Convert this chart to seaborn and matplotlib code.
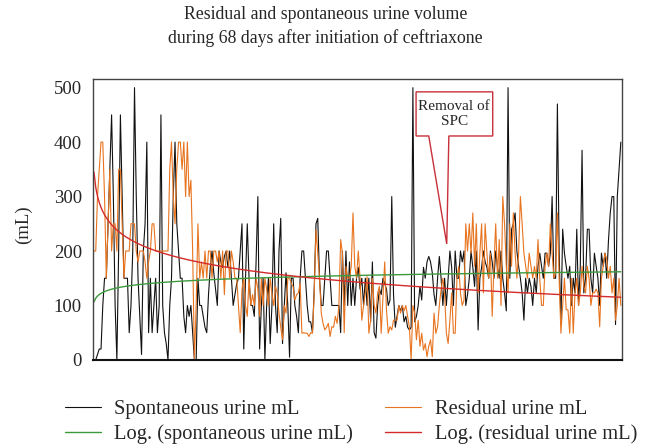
import numpy as np
import pandas as pd
import matplotlib
matplotlib.use("Agg")
import matplotlib.pyplot as plt
from matplotlib.patches import Polygon
import seaborn as sns

# spontaneous urine (mL)
spontaneous = [
    0, 0, 10, 20, 20, 100, 150, 150, 250, 350, 450, 300, 100, 0, 200, 450, 300, 150, 150, 150,
    50, 100, 200, 500, 300, 150, 80, 10, 200, 250, 400, 50, 150, 50, 100, 150, 50, 100, 450, 100,
    50, 30, 0, 100, 150, 300, 400, 250, 200, 150,
    150, 80, 50, 100, 80, 100, 50, 0, 0, 150, 100, 100, 80, 60, 50, 120, 170, 200, 160, 130,
    100, 200, 180, 170, 190, 200, 170, 200, 150, 100, 120, 140, 150, 200, 250, 20, 150, 250, 150, 100,
    100, 80, 180, 300, 20, 100, 150, 0, 100, 150,
    30, 100, 250, 100, 50, 200, 260, 30, 100, 160, 100, 5, 150, 150, 100, 80, 50, 150, 200, 200,
    150, 100, 70, 70, 50, 130, 250, 260, 150, 100, 100, 150, 200, 200, 150, 100, 100, 100, 100, 100,
    50, 200, 100, 200, 100, 180, 100, 150, 100, 150,
    170, 130, 150, 100, 150, 100, 150, 70, 180, 50, 40, 100, 130, 120, 150, 140, 130, 100, 110, 300,
    120, 60, 80, 100, 90, 100, 70, 80, 60, 55, 60, 500, 70, 80, 100, 135, 110, 170, 150, 180,
    190, 180, 160, 120, 100, 150, 190, 150, 100, 150,
    100, 150, 200, 170, 100, 200, 150, 150, 200, 180, 200, 100, 120, 150, 200, 170, 135, 200, 55, 150,
    170, 200, 180, 170, 150, 200, 180, 150, 200, 170, 150, 200, 150, 123, 90, 500, 150, 240, 250, 270,
    200, 172, 150, 123, 73, 150, 123, 150, 135, 100,
    150, 123, 172, 196, 172, 150, 196, 196, 172, 196, 300, 150, 150, 470, 196, 65, 240, 196, 172, 150,
    172, 100, 150, 123, 240, 100, 172, 385, 123, 150, 240, 240, 150, 123, 196, 172, 150, 100, 196, 172,
    196, 150, 220, 270, 300, 300, 65, 300, 350, 400,
]

# residual urine (mL)
residual = [
    200, 200, 300, 350, 400, 400, 300, 150, 250, 350, 200, 250, 250, 200, 350, 350, 250, 150, 200, 200,
    200, 250, 250, 250, 200, 180, 200, 200, 200, 180, 150, 180, 200, 250, 250, 200, 200, 200, 200, 200,
    200, 200, 200, 350, 400, 300, 250, 350, 400, 400,
    350, 400, 300, 400, 300, 330, 200, 0, 100, 250, 150, 180, 150, 200, 150, 200, 200, 150, 200, 200,
    180, 200, 150, 200, 120, 200, 200, 150, 200, 180, 150, 150, 100, 50, 130, 150, 100, 80, 150, 100,
    120, 100, 150, 130, 80, 150, 100, 150, 130, 100,
    150, 120, 100, 135, 123, 86, 60, 37, 100, 86, 150, 150, 140, 135, 110, 120, 123, 141, 49, 50,
    49, 49, 43, 50, 49, 123, 239, 196, 150, 86, 67, 55, 60, 67, 43, 61, 60, 80, 67, 100,
    221, 196, 50, 172, 150, 150, 172, 270, 172, 150,
    200, 150, 73, 100, 123, 153, 49, 73, 150, 100, 86, 123, 135, 49, 116, 180, 92, 49, 61, 55,
    73, 73, 73, 100, 86, 100, 90, 100, 80, 60, 0, 100, 86, 37, 73, 25, 49, 18, 30, 6,
    25, 37, 6, 86, 49, 61, 100, 130, 150, 120,
    49, 30, 73, 123, 49, 49, 150, 172, 123, 100, 110, 250, 200, 250, 196, 270, 172, 250, 123, 196,
    250, 123, 250, 196, 150, 196, 80, 172, 250, 150, 221, 100, 300, 250, 172, 123, 250, 172, 270, 196,
    150, 196, 300, 250, 196, 172, 150, 196, 172, 150,
    172, 150, 221, 150, 100, 100, 172, 196, 172, 250, 196, 150, 160, 270, 150, 49, 100, 150, 92, 92,
    49, 150, 49, 123, 150, 100, 123, 172, 135, 123, 172, 150, 100, 123, 123, 130, 123, 61, 150, 172,
    196, 185, 150, 172, 123, 150, 73, 100, 150, 100,
]

y_ticks = [0, 100, 200, 300, 400, 500]

df = pd.DataFrame({"t": np.arange(1, len(spontaneous) + 1),
                   "spont": spontaneous, "resid": residual})

# logarithmic trendlines (least squares on ln(t), like Excel)
lt = np.log(df["t"])
a_s, b_s = np.polyfit(lt, df["spont"], 1)
a_r, b_r = np.polyfit(lt, df["resid"], 1)
df["spont_log"] = a_s * lt + b_s
df["resid_log"] = a_r * lt + b_r

sns.set_style("white")
plt.rcParams["font.family"] = ["Liberation Serif", "DejaVu Serif"]

fig = plt.figure(figsize=(6.51, 4.46), dpi=100)
ax = fig.add_axes([0.143, 0.193, 0.812, 0.630])

sns.lineplot(data=df, x="t", y="spont", ax=ax, color="#111111", lw=0.8,
             label="Spontaneous urine mL")
sns.lineplot(data=df, x="t", y="resid", ax=ax, color="#e8741f", lw=0.8,
             label="Residual urine mL")
sns.lineplot(data=df, x="t", y="spont_log", ax=ax, color="#3c9a3c", lw=1.0,
             label="Log. (spontaneous urine mL)")
sns.lineplot(data=df, x="t", y="resid_log", ax=ax, color="#d42a2a", lw=1.0,
             label="Log. (residual urine mL)")

ax.set_xlim(0.5, len(df) + 0.5)
ax.set_ylim(0, 516)
ax.set_yticks(y_ticks)
ax.set_xticks([])
ax.tick_params(axis="y", labelsize=13.5, length=0, pad=8)
ax.set_xlabel("")
ax.set_ylabel("(mL)", fontsize=13.5)
ax.yaxis.set_label_coords(-0.115, 0.48)
for s in ax.spines.values():
    s.set_color("#444444")
    s.set_linewidth(1.0)
ax.spines["bottom"].set_color("#111111")
ax.spines["bottom"].set_linewidth(1.5)

fig.suptitle("Residual and spontaneous urine volume\nduring 68 days after initiation of ceftriaxone",
             fontsize=12.8, y=0.986, linespacing=1.45)

# callout box
call = Polygon([(0.611, 0.954), (0.756, 0.954), (0.756, 0.797), (0.673, 0.797),
                (0.669, 0.413), (0.635, 0.797), (0.611, 0.797)],
               closed=True, transform=ax.transAxes, facecolor="white",
               edgecolor="#c8303a", lw=1.0, zorder=5)
ax.add_patch(call)
ax.text(0.683, 0.876, "Removal of\nSPC", transform=ax.transAxes, ha="center",
        va="center", fontsize=11, zorder=6, linespacing=1.15)

handles, labels = ax.get_legend_handles_labels()
ax.get_legend().remove()
order = [0, 2, 1, 3]
fig.legend([handles[i] for i in order], [labels[i] for i in order],
           loc="upper left", bbox_to_anchor=(0.100, 0.103), ncol=2, frameon=False,
           fontsize=14.8, handlelength=1.75, handletextpad=0.65, columnspacing=1.55,
           labelspacing=0.22, borderpad=0, borderaxespad=0)

fig.savefig("out.png", dpi=100)
